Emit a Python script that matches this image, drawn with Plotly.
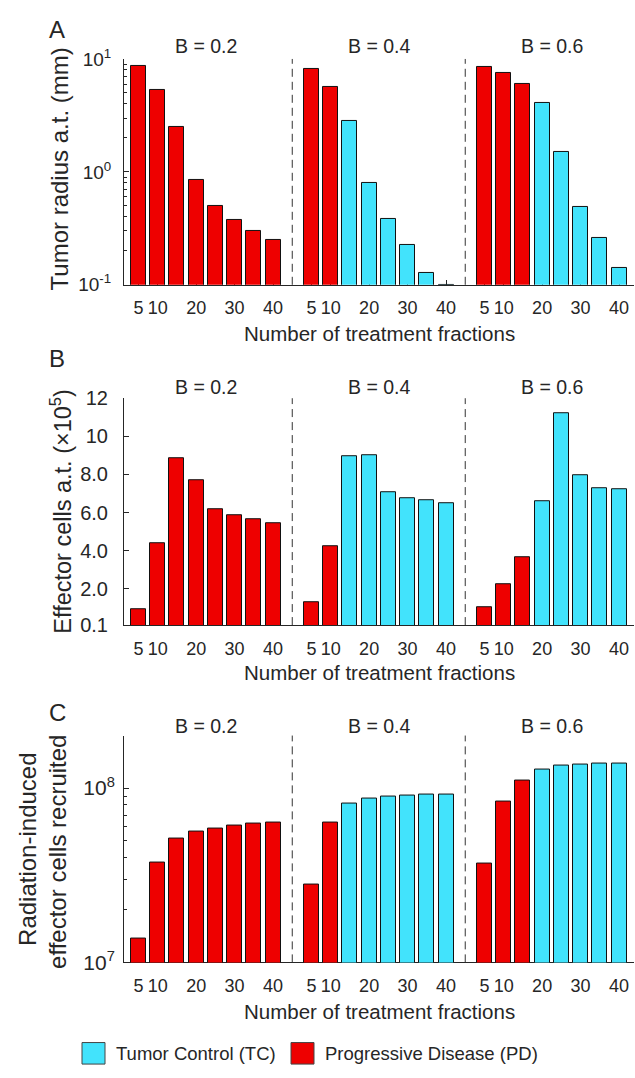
import math
import plotly.graph_objects as go

# ---- data -------------------------------------------------------------
fractions = [5, 10, 15, 20, 25, 30, 35, 40]
tick_fractions = [5, 10, 20, 30, 40]
b_labels = ["B = 0.2", "B = 0.4", "B = 0.6"]

# treatment outcome per fraction count, for each B
outcome_b02 = ["PD", "PD", "PD", "PD", "PD", "PD", "PD", "PD"]
outcome_b04 = ["PD", "PD", "TC", "TC", "TC", "TC", "TC", "TC"]
outcome_b06 = ["PD", "PD", "PD", "TC", "TC", "TC", "TC", "TC"]

# A: tumor radius after treatment (mm)
radius_b02 = [8.65, 5.32, 2.48, 0.843, 0.50, 0.372, 0.299, 0.248]
radius_b04 = [8.14, 5.61, 2.83, 0.795, 0.383, 0.225, 0.127, 0.1006]
radius_b06 = [8.53, 7.46, 6.04, 4.06, 1.51, 0.486, 0.262, 0.141]

# B: effector cells after treatment (x 10^5)
effector_b02 = [0.91, 4.38, 8.87, 7.72, 6.20, 5.87, 5.63, 5.43]
effector_b04 = [1.28, 4.26, 8.95, 8.99, 7.05, 6.76, 6.64, 6.50]
effector_b06 = [1.06, 2.23, 3.64, 6.59, 11.21, 7.96, 7.29, 7.21]

# C: radiation-induced effector cells recruited
recruited_b02 = [1.375e7, 3.76e7, 5.12e7, 5.61e7, 5.88e7, 6.09e7, 6.22e7, 6.38e7]
recruited_b04 = [2.80e7, 6.38e7, 8.13e7, 8.67e7, 8.90e7, 9.02e7, 9.14e7, 9.17e7]
recruited_b06 = [3.67e7, 8.34e7, 1.11e8, 1.27e8, 1.35e8, 1.37e8, 1.38e8, 1.39e8]

outcomes = [outcome_b02, outcome_b04, outcome_b06]
panel_values = [
    [radius_b02, radius_b04, radius_b06],
    [effector_b02, effector_b04, effector_b06],
    [recruited_b02, recruited_b04, recruited_b06],
]

# ---- styling ----------------------------------------------------------
W, H = 635, 1078
FONT = "Liberation Sans, Arial, Helvetica, sans-serif"
INK = "#262626"
TC_COLOR = "#42E3FC"
PD_COLOR = "#EE0000"
OUTCOME_COLOR = {"TC": TC_COLOR, "PD": PD_COLOR}
GROUP_SHIFT = 45          # x offset between the three B groups
BAR_WIDTH = 3.9


def px(x):
    return x / W


def py(y):
    return 1 - y / H


# vertical pixel extents of each panel's plotting area
panel_px = [(47, 278), (394, 626), (739, 971)]
x_left, x_right = 124, 634

fig = go.Figure()

for p, groups in enumerate(panel_values):
    suffix = "" if p == 0 else str(p + 1)
    for g, vals in enumerate(groups):
        fig.add_trace(go.Bar(
            x=[f + GROUP_SHIFT * g for f in fractions],
            y=vals,
            width=BAR_WIDTH,
            marker=dict(color=[OUTCOME_COLOR[o] for o in outcomes[g]],
                        line=dict(color="#111111", width=1)),
            xaxis="x" + suffix, yaxis="y" + suffix,
            showlegend=False,
            hoverinfo="x+y",
        ))

tickvals_x = [f + GROUP_SHIFT * g for g in range(3) for f in tick_fractions]
ticktext_x = [str(f) for g in range(3) for f in tick_fractions]

layout = dict(
    width=W, height=H,
    margin=dict(l=0, r=0, t=0, b=0),
    paper_bgcolor="white", plot_bgcolor="white",
    font=dict(family=FONT, color=INK, size=18),
    bargap=0, showlegend=False,
)

for p, (top, bottom) in enumerate(panel_px):
    suffix = "" if p == 0 else str(p + 1)
    layout["xaxis" + suffix] = dict(
        domain=[px(x_left), px(x_right)],
        range=[1.23, 133.9],
        anchor="y" + suffix,
        tickmode="array", tickvals=tickvals_x, ticktext=ticktext_x,
        ticks="inside", ticklen=5, tickcolor=INK, tickwidth=1,
        ticklabelstandoff=7,
        tickfont=dict(size=18, color=INK),
        showline=True, linecolor=INK, linewidth=1,
        showgrid=False, zeroline=False, layer="below traces",
    )

# A: tumor radius (log)
layout["yaxis"] = dict(
    domain=[py(panel_px[0][1]), py(panel_px[0][0])],
    type="log", range=[-1, 1], anchor="x",
    tickmode="array", tickvals=[0.1, 1, 10],
    ticktext=["10<sup>-1</sup>", "10<sup>0</sup>", "10<sup>1</sup>"],
    ticks="inside", ticklen=5, tickcolor=INK, ticklabelstandoff=8,
    tickfont=dict(size=19, color=INK),
    minor=dict(tickmode="array",
               tickvals=[0.2, 0.3, 0.4, 0.5, 0.6, 0.7, 0.8, 0.9,
                         2, 3, 4, 5, 6, 7, 8, 9],
               ticks="inside", ticklen=3, tickcolor=INK, showgrid=False),
    showline=True, linecolor=INK, linewidth=1,
    showgrid=False, zeroline=False,
)

# B: effector cells (linear)
layout["yaxis2"] = dict(
    domain=[py(panel_px[1][1]), py(panel_px[1][0])],
    range=[0.1, 12], anchor="x2",
    tickmode="array", tickvals=[0.1, 2, 4, 6, 8, 10, 12],
    ticktext=["0.1", "2.0", "4.0", "6.0", "8.0", "10", "12"],
    ticks="inside", ticklen=5, tickcolor=INK, ticklabelstandoff=11,
    tickfont=dict(size=20, color=INK),
    showline=True, linecolor=INK, linewidth=1,
    showgrid=False, zeroline=False,
)

# C: recruited effector cells (log)
layout["yaxis3"] = dict(
    domain=[py(panel_px[2][1]), py(panel_px[2][0])],
    type="log", range=[7, math.log10(2e8)], anchor="x3",
    tickmode="array", tickvals=[1e7, 1e8],
    ticktext=["10<sup>7</sup>", "10<sup>8</sup>"],
    ticks="inside", ticklen=5, tickcolor=INK, ticklabelstandoff=4,
    tickfont=dict(size=21, color=INK),
    minor=dict(tickmode="array",
               tickvals=[2e7, 3e7, 4e7, 5e7, 6e7, 7e7, 8e7, 9e7, 2e8],
               ticks="inside", ticklen=3, tickcolor=INK, showgrid=False),
    showline=True, linecolor=INK, linewidth=1,
    showgrid=False, zeroline=False,
)

fig.update_layout(**layout)

# dashed separators between B groups
for p in range(3):
    suffix = "" if p == 0 else str(p + 1)
    for g in (1, 2):
        fig.add_shape(type="line", xref="x" + suffix, yref="y" + suffix + " domain",
                      x0=GROUP_SHIFT * g, x1=GROUP_SHIFT * g, y0=0, y1=1,
                      line=dict(color="#333333", width=1, dash="8px,5px"))

annotations = []


def text(x, y, s, size, xref="paper", angle=0, xanchor="center"):
    annotations.append(dict(
        x=x, y=y, xref=xref, yref="paper", text=s, showarrow=False,
        xanchor=xanchor, yanchor="middle", textangle=angle,
        font=dict(size=size, color=INK, family=FONT)))


# panel letters
for letter, ypx in zip("ABC", (17, 353, 715)):
    text(px(57), py(ypx), letter, 24)

# B group titles above each panel
title_px = [34, 383, 729]
for p in range(3):
    suffix = "" if p == 0 else str(p + 1)
    for g, lab in enumerate(b_labels):
        text(22.5 + GROUP_SHIFT * g, py(title_px[p]), lab, 19.5, xref="x" + suffix)

# x-axis titles
for ypx in (328, 675, 1021):
    text(px((x_left + x_right) / 2), py(ypx), "Number of treatment fractions", 20.5)

# y-axis titles
text(px(59), py(160), "Tumor radius a.t. (mm)", 24, angle=-90)
text(px(61), py(510), "Effector cells a.t. (\u00d710<sup>5</sup>)", 23.5, angle=-90)
text(px(28), py(856), "Radiation-induced", 24, angle=-90)
text(px(58), py(858), "effector cells recruited", 24, angle=-90)

# outcome key
for x0, color, label in ((82, TC_COLOR, "Tumor Control (TC)"),
                         (291, PD_COLOR, "Progressive Disease (PD)")):
    fig.add_shape(type="rect", xref="paper", yref="paper",
                  x0=px(x0), x1=px(x0 + 23), y0=py(1075), y1=py(1053),
                  fillcolor=color, line=dict(color="#444444", width=1))
    text(px(x0 + 32), py(1064), label, 18.5, xanchor="left")

fig.update_layout(annotations=annotations)

fig.write_html("out.html")
